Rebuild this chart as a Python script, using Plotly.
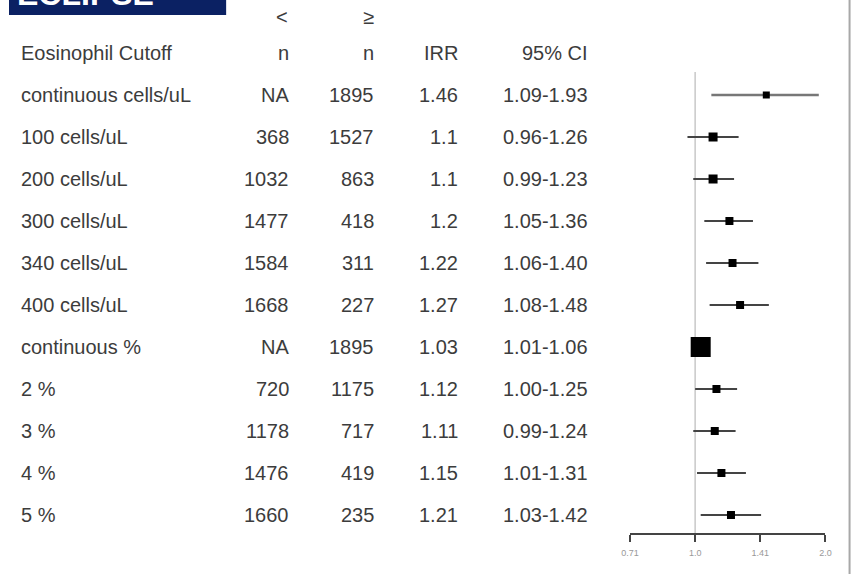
import math
import plotly.graph_objects as go

W, H = 859, 574

# Table / forest data
cutoffs = ["continuous cells/uL", "100 cells/uL", "200 cells/uL", "300 cells/uL",
           "340 cells/uL", "400 cells/uL", "continuous %", "2 %", "3 %", "4 %", "5 %"]
n_below = ["NA", "368", "1032", "1477", "1584", "1668", "NA", "720", "1178", "1476", "1660"]
n_above = ["1895", "1527", "863", "418", "311", "227", "1895", "1175", "717", "419", "235"]
irr = [1.46, 1.1, 1.1, 1.2, 1.22, 1.27, 1.03, 1.12, 1.11, 1.15, 1.21]
irr_text = ["1.46", "1.1", "1.1", "1.2", "1.22", "1.27", "1.03", "1.12", "1.11", "1.15", "1.21"]
ci_low = [1.09, 0.96, 0.99, 1.05, 1.06, 1.08, 1.01, 1.00, 0.99, 1.01, 1.03]
ci_high = [1.93, 1.26, 1.23, 1.36, 1.40, 1.48, 1.06, 1.25, 1.24, 1.31, 1.42]
ci_text = ["1.09-1.93", "0.96-1.26", "0.99-1.23", "1.05-1.36", "1.06-1.40", "1.08-1.48",
           "1.01-1.06", "1.00-1.25", "0.99-1.24", "1.01-1.31", "1.03-1.42"]
box_size = [7, 9, 9, 8, 8, 8, 20, 8, 8, 8, 8]
tick_vals = [0.7071, 1.0, 1.4142, 2.0]
tick_text = ["0.71", "1.0", "1.41", "2.0"]

rows = list(range(len(cutoffs)))

# pixel helpers for the layout grid
ROW0, ROWSTEP = 95, 42
AXIS_Y = 533
def px_to_row(p):
    return (p - ROW0) / ROWSTEP
def xp(p):
    return p / W

fig = go.Figure()

# confidence interval segments
seg_x, seg_y = [], []
for i in rows[1:]:
    seg_x += [ci_low[i], ci_high[i], None]
    seg_y += [i, i, None]
fig.add_trace(go.Scatter(x=[ci_low[0], ci_high[0]], y=[0, 0], mode="lines",
                         line=dict(color="#777777", width=2.6), hoverinfo="skip"))
fig.add_trace(go.Scatter(x=seg_x, y=seg_y, mode="lines",
                         line=dict(color="#444444", width=2), hoverinfo="skip"))
# point estimates
fig.add_trace(go.Scatter(x=irr, y=rows, mode="markers", opacity=1,
                         marker=dict(symbol="square", size=box_size, color="#000000",
                                     opacity=1, line=dict(width=0))))

# table text
font = dict(family="Liberation Sans, Arial, sans-serif", size=20, color="#3c3c3c")
ann = []
def txt(x, y, s, anchor):
    ann.append(dict(x=x, y=y, xref="paper", yref="y", text=s, showarrow=False,
                    xanchor=anchor, yanchor="middle", font=font))

hdr_sym = px_to_row(17)
hdr = px_to_row(53)
txt(xp(286), hdr_sym, "<", "right")
txt(xp(374), hdr_sym, "≥", "right")
txt(xp(10), hdr, "Eosinophil Cutoff", "left")
txt(xp(287), hdr, "n", "right")
txt(xp(374), hdr, "n", "right")
txt(xp(459), hdr, "IRR", "right")
txt(xp(591), hdr, "95% CI", "right")
for i in rows:
    txt(xp(10), i, cutoffs[i], "left")
    txt(xp(287), i, n_below[i], "right")
    txt(xp(374), i, n_above[i], "right")
    txt(xp(459), i, irr_text[i], "right")
    txt(xp(591), i, ci_text[i], "right")

# banner title, partly beyond the top edge
ann.append(dict(x=xp(6), y=1 - 14 / H, xref="paper", yref="paper", text="<b>ECLIPSE</b>",
                showarrow=False, xanchor="left", yanchor="bottom",
                font=dict(family="Liberation Sans, Arial, sans-serif", size=32, color="white")))

shapes = [
    dict(type="rect", xref="paper", yref="paper", x0=0, x1=xp(221), y0=1 - 15 / H, y1=1.05,
         fillcolor="#0b2163", line=dict(width=0), layer="below"),
    # reference line at IRR = 1
    dict(type="line", xref="x", yref="y", x0=1, x1=1, y0=px_to_row(72), y1=px_to_row(AXIS_Y),
         line=dict(color="#c8c8c8", width=1.5), layer="below"),
    # right frame edge
    dict(type="line", xref="paper", yref="paper", x0=xp(855.5), x1=xp(855.5), y0=0, y1=1,
         line=dict(color="#a8a8a8", width=2)),
]

fig.update_layout(
    width=W, height=H, margin=dict(l=0, r=0, t=0, b=0),
    paper_bgcolor="white", plot_bgcolor="white", showlegend=False,
    annotations=ann, shapes=shapes,
    xaxis=dict(type="log", domain=[xp(632), xp(831)],
               range=[math.log10(0.7071), math.log10(2.0)],
               tickvals=tick_vals, ticktext=tick_text, ticks="outside", ticklen=7,
               tickwidth=2, tickcolor="#444444", showline=True, linecolor="#444444",
               linewidth=2, showgrid=False, zeroline=False, ticklabelstandoff=3,
               tickfont=dict(family="Liberation Sans, Arial, sans-serif", size=9, color="#999999")),
    yaxis=dict(domain=[1 - AXIS_Y / H, 1], range=[px_to_row(AXIS_Y), px_to_row(0)],
               showticklabels=False, showgrid=False, zeroline=False, showline=False),
)

fig.write_html("out.html")
